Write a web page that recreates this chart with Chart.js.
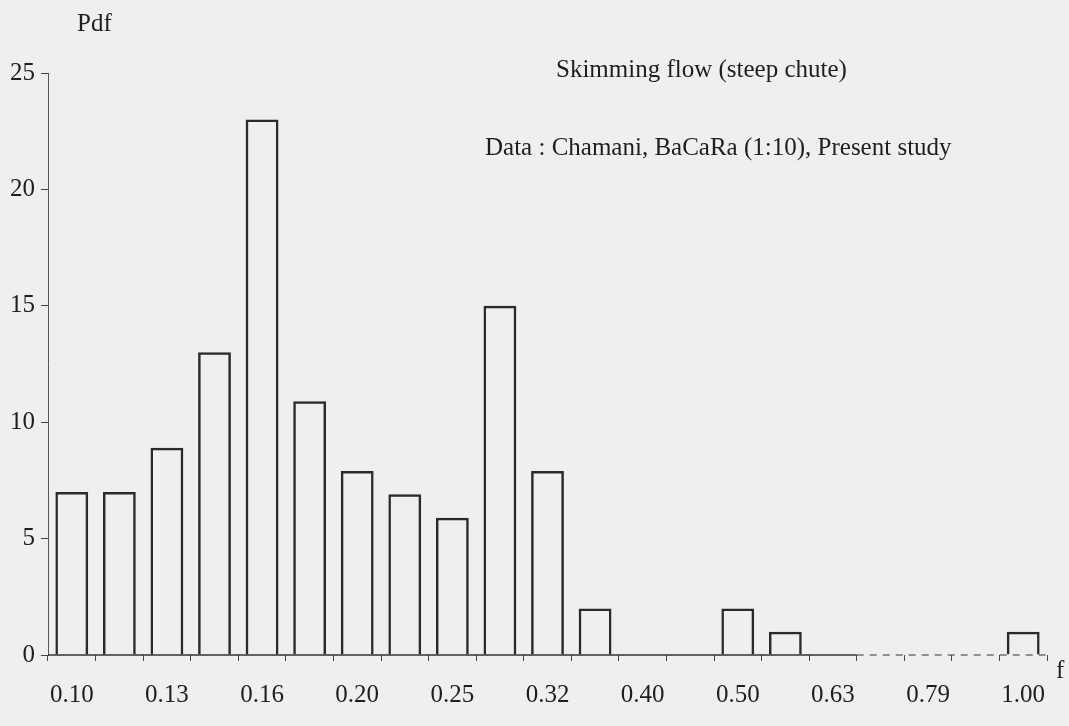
<!DOCTYPE html>
<html>
<head>
<meta charset="utf-8">
<script src="https://cdn.jsdelivr.net/npm/chart.js@4.4.1/dist/chart.umd.min.js"></script>
<style>
  html, body { margin: 0; padding: 0; background: #efefef; }
</style>
</head>
<body>
<canvas id="pdf" width="1069" height="726"></canvas>
<script>
// bins of f (log spaced, 20 per decade / 2)
const bins = ['0.100', '0.112', '0.126', '0.141', '0.158', '0.178', '0.200', '0.224', '0.251', '0.282',
              '0.316', '0.355', '0.398', '0.447', '0.501', '0.562', '0.631', '0.708', '0.794', '0.891', '1.000'];
const pdf = [7, 7, 8.9, 13, 23, 10.9, 7.9, 6.9, 5.9, 15, 7.9, 2, 0, 0, 2, 1, 0, 0, 0, 0, 1];
const tickLabels = ['0.10', '0.13', '0.16', '0.20', '0.25', '0.32', '0.40', '0.50', '0.63', '0.79', '1.00'];
const yMax = 25;
const yStep = 5;

const serif = '"Liberation Serif", "DejaVu Serif", serif';
const ink = '#1e1e1e';

// baseline (solid then dashed) + free texts
const annotate = {
  id: 'annotate',
  beforeDatasetsDraw(chart) {
    const { ctx, chartArea: a, scales: { x, y } } = chart;
    const y0 = y.getPixelForValue(0);
    const split = (x.getPixelForTick(16) + x.getPixelForTick(17)) / 2;
    ctx.save();
    ctx.strokeStyle = '#333';
    ctx.lineWidth = 1.5;
    ctx.beginPath();
    ctx.moveTo(a.left, y0);
    ctx.lineTo(split, y0);
    ctx.stroke();
    ctx.setLineDash([7, 6]);
    ctx.lineWidth = 1;
    ctx.beginPath();
    ctx.moveTo(split, y0);
    ctx.lineTo(a.right, y0);
    ctx.stroke();
    ctx.restore();
  },
  afterDraw(chart) {
    const ctx = chart.ctx;
    ctx.save();
    ctx.fillStyle = ink;
    ctx.textBaseline = 'alphabetic';
    ctx.font = '25px ' + serif;
    ctx.fillText('Pdf', 77, 31);
    ctx.fillText('Skimming flow (steep chute)', 556, 77);
    ctx.fillText('Data : Chamani, BaCaRa (1:10), Present study', 485, 155);
    ctx.fillText('f', 1056, 678);
    ctx.restore();
  }
};

new Chart(document.getElementById('pdf'), {
  type: 'bar',
  data: {
    labels: bins,
    datasets: [{
      data: pdf,
      backgroundColor: 'rgba(0,0,0,0)',
      borderColor: '#2a2a2a',
      borderWidth: c => (c.raw === 0 ? 0 : 2.5),
      barPercentage: 0.69,
      categoryPercentage: 1
    }]
  },
  options: {
    responsive: false,
    animation: false,
    devicePixelRatio: 1,
    layout: { padding: { left: 0, right: 22, top: 73, bottom: 0 } },
    plugins: { legend: { display: false }, tooltip: { enabled: false } },
    scales: {
      x: {
        afterFit: s => { s.height = 71; },
        grid: { drawOnChartArea: false, offset: true, tickLength: 6, color: '#444' },
        border: { display: false },
        ticks: {
          autoSkip: false,
          maxRotation: 0,
          padding: 19,
          color: ink,
          font: { family: serif, size: 25 },
          callback: (v, i) => (i % 2 === 0 ? tickLabels[i / 2] : '')
        }
      },
      y: {
        min: 0,
        max: yMax,
        afterFit: s => { s.width = 48; },
        grid: { drawOnChartArea: false, tickLength: 7, color: '#444' },
        border: { display: true, color: '#555', width: 1, dash: [2, 3] },
        ticks: {
          stepSize: yStep,
          padding: 6,
          color: ink,
          font: { family: serif, size: 25 }
        }
      }
    }
  },
  plugins: [annotate]
});
</script>
</body>
</html>
